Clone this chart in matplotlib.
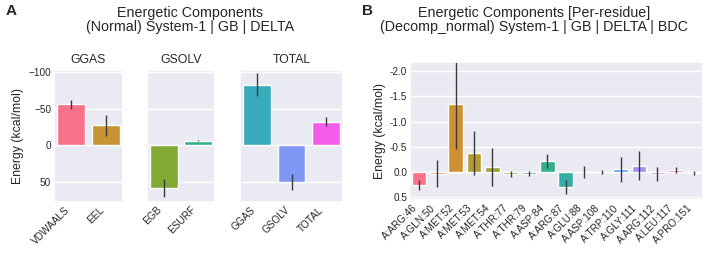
import matplotlib
matplotlib.use("Agg")
import matplotlib.pyplot as plt
import seaborn as sns

# panel A: energetic components (kcal/mol)
ggas_terms = ["VDWAALS", "EEL"]
ggas_vals = [-56.0, -27.0]
ggas_err = [6.0, 14.0]

gsolv_terms = ["EGB", "ESURF"]
gsolv_vals = [58.5, -6.0]
gsolv_err = [12.0, 1.0]

total_terms = ["GGAS", "GSOLV", "TOTAL"]
total_vals = [-83.0, 51.0, -32.0]
total_err = [16.0, 11.0, 6.0]

# panel B: per-residue decomposition
residues = ["A:ARG:46", "A:GLN:50", "A:MET:52", "A:MET:53", "A:MET:54",
            "A:THR:77", "A:THR:79", "A:ASP:84", "A:ARG:87", "A:GLU:88",
            "A:ASP:108", "A:TRP:110", "A:GLY:111", "A:ARG:112", "A:LEU:117",
            "A:PRO:151"]
res_vals = [0.26, 0.03, -1.35, -0.38, -0.10, 0.03, 0.03, -0.22, 0.30, -0.01,
            0.0, -0.06, -0.13, 0.03, -0.05, 0.01]
res_err = [0.10, 0.27, 0.89, 0.44, 0.38, 0.06, 0.05, 0.14, 0.14, 0.12,
           0.04, 0.25, 0.28, 0.14, 0.06, 0.04]

sns.set_theme(style="darkgrid")
plt.rcParams["font.family"] = ["Liberation Sans", "DejaVu Sans"]

W, H = 708, 256
fig = plt.figure(figsize=(W / 100, H / 100), dpi=100)


def px(l, t, r, b):
    return [l / W, 1 - b / H, (r - l) / W, (b - t) / H]


pal7 = sns.husl_palette(7)
pal16 = sns.husl_palette(16)

err_kw = dict(ecolor="#3a3a3a", elinewidth=1.0, capsize=0)


def draw_bars(ax, names, vals, errs, colors):
    x = range(len(names))
    ax.bar(x, vals, width=0.8, yerr=errs, color=colors, error_kw=err_kw)
    ax.set_xticks(list(x))
    ax.set_xticklabels(names, rotation=45, ha="right", fontsize=7.2)
    ax.set_xlim(-0.5, len(names) - 0.5)
    ax.xaxis.grid(False)
    ax.tick_params(axis="both", pad=2, length=0)


# ---- panel A
boxes = [(54, 123), (147, 215), (240, 343)]
groups = [("GGAS", ggas_terms, ggas_vals, ggas_err, pal7[0:2]),
          ("GSOLV", gsolv_terms, gsolv_vals, gsolv_err, pal7[2:4]),
          ("TOTAL", total_terms, total_vals, total_err, pal7[4:7])]
for i, ((l, r), (title, names, vals, errs, cols)) in enumerate(zip(boxes, groups)):
    ax = fig.add_axes(px(l, 70, r, 202))
    draw_bars(ax, names, vals, errs, cols)
    ax.set_ylim(78, -103)
    ax.set_yticks([-100, -50, 0, 50])
    ax.set_title(title, fontsize=8.8, pad=5)
    if i == 0:
        ax.tick_params(axis="y", labelsize=7.2)
        ax.set_ylabel("Energy (kcal/mol)", fontsize=8.8, labelpad=3)
    else:
        ax.set_yticklabels([])

fig.text(190 / W, 1 - 13 / H, "Energetic Components", ha="center", va="center", fontsize=10.3)
fig.text(190 / W, 1 - 27 / H, "(Normal) System-1 | GB | DELTA", ha="center", va="center", fontsize=10.3)
fig.text(6 / W, 1 - 11 / H, "A", ha="left", va="center", fontsize=11, fontweight="bold")

# ---- panel B
axb = fig.add_axes(px(410, 62, 703, 200))
draw_bars(axb, residues, res_vals, res_err, pal16)
axb.set_ylim(0.55, -2.18)
axb.set_yticks([-2.0, -1.5, -1.0, -0.5, 0.0, 0.5])
axb.set_yticklabels(["-2.0", "-1.5", "-1.0", "-0.5", "0.0", "0.5"])
axb.tick_params(axis="y", labelsize=7.2)
axb.set_ylabel("Energy (kcal/mol)", fontsize=8.8, labelpad=3)

fig.text(534 / W, 1 - 13 / H, "Energetic Components [Per-residue]", ha="center", va="center", fontsize=10.3)
fig.text(534 / W, 1 - 27 / H, "(Decomp_normal) System-1 | GB | DELTA | BDC", ha="center", va="center", fontsize=10.3)
fig.text(362 / W, 1 - 11 / H, "B", ha="left", va="center", fontsize=11, fontweight="bold")

fig.savefig("out.png", dpi=100)
